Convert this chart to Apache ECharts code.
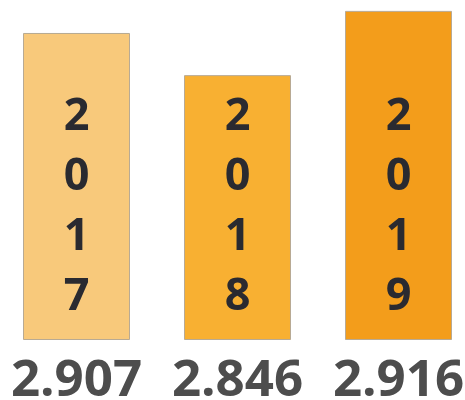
<!DOCTYPE html>
<html><head><meta charset="utf-8">
<script src="https://cdn.jsdelivr.net/npm/echarts@6/dist/echarts.min.js"></script>
<style>html,body{margin:0;padding:0;background:#fff}#c{width:465px;height:400px}</style>
</head><body><div id="c"></div>
<script>
const years = ['2017', '2018', '2019'];
const valueLabels = ['2.907', '2.846', '2.916'];
const barLevels = [90.3, 77.9, 96.8];
const barColors = ['#f8c97b', '#f8b032', '#f39d1b'];

const chart = echarts.init(document.getElementById('c'));
chart.setOption({
  animation: false,
  grid: { left: -4, width: 483, top: 0, bottom: 60, outerBoundsMode: 'none', containLabel: false },
  xAxis: {
    type: 'category', data: years,
    axisLine: { show: false }, axisTick: { show: false },
    axisLabel: {
      interval: 0, hideOverlap: false,
      formatter: (v, i) => valueLabels[i],
      fontFamily: 'Open Sans', fontWeight: 'bold', fontSize: 51,
      color: '#4d4d4d', margin: 16, lineHeight: 51
    }
  },
  yAxis: { type: 'value', min: 0, max: 100, show: false, splitLine: { show: false } },
  series: [{
    type: 'bar', barWidth: 107,
    data: barLevels.map((v, i) => ({ value: v, itemStyle: { color: barColors[i] } })),
    itemStyle: { borderColor: '#b8aa94', borderWidth: 1 },
    label: {
      show: true, position: 'insideBottom', distance: 13,
      formatter: p => years[p.dataIndex].split('').join('\n'),
      fontFamily: 'Open Sans', fontWeight: 'bold', fontSize: 45,
      lineHeight: 60, color: '#2a2a30'
    }
  }]
});
</script></body></html>
